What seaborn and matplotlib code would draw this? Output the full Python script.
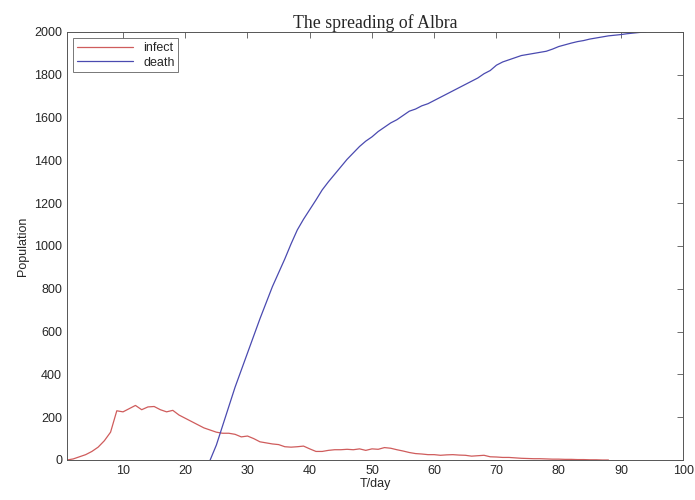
import numpy as np
import pandas as pd
import matplotlib
matplotlib.use('Agg')
import matplotlib.pyplot as plt
import seaborn as sns

# infected population per day (days 1..88)
infect_days = list(range(1, 89))
infect = [0, 5, 15, 25, 40, 60, 90, 130, 230, 225,
          240, 255, 235, 248, 250, 235, 225, 232, 210, 195,
          180, 165, 150, 140, 130, 125, 125, 120, 108, 112,
          100, 85, 80, 75, 72, 62, 60, 62, 65, 52,
          40, 40, 45, 48, 48, 50, 48, 52, 45, 52,
          50, 58, 55, 48, 42, 35, 30, 28, 25, 25,
          22, 24, 25, 23, 22, 18, 20, 22, 15, 14,
          12, 12, 10, 8, 7, 6, 6, 5, 4, 4,
          3, 3, 2, 2, 1, 1, 0, 0]

# cumulative deaths per day (days 24..94)
death_days = list(range(24, 95))
death = [0, 70, 160, 250, 340, 420, 500, 580, 660, 735,
         810, 875, 940, 1010, 1075, 1125, 1170, 1215, 1262, 1300,
         1335, 1370, 1405, 1435, 1465, 1490, 1510, 1535, 1555, 1575,
         1590, 1610, 1630, 1640, 1655, 1665, 1680, 1695, 1710, 1725,
         1740, 1755, 1770, 1785, 1805, 1820, 1845, 1860, 1870, 1880,
         1890, 1895, 1900, 1905, 1910, 1920, 1932, 1940, 1948, 1955,
         1960, 1967, 1972, 1977, 1982, 1985, 1988, 1992, 1995, 1998,
         2000]

df = pd.concat([
    pd.DataFrame({'day': infect_days, 'pop': infect, 'series': 'infect'}),
    pd.DataFrame({'day': death_days, 'pop': death, 'series': 'death'}),
])

sns.set_style('white')
plt.rcParams['font.family'] = ['Liberation Sans', 'DejaVu Sans']

fig = plt.figure(figsize=(6.95, 5.0), dpi=100)
ax = fig.add_axes([0.0964, 0.08, 0.8866, 0.856])

sns.lineplot(data=df, x='day', y='pop', hue='series',
             palette={'infect': '#cf5c5c', 'death': '#4a4ab0'},
             linewidth=0.9, ax=ax)

ax.set_xlim(1, 100)
ax.set_ylim(0, 2000)
ax.set_xticks(range(10, 101, 10))
ax.set_yticks(range(0, 2001, 200))
ax.tick_params(direction='in', top=True, right=True, length=4,
               width=0.6, color='#555555', labelsize=9)
for s in ax.spines.values():
    s.set_color('#555555')
    s.set_linewidth(0.7)

ax.set_xlabel('T/day', fontsize=9, labelpad=1)
ax.set_ylabel('Population', fontsize=9)
ax.set_title('The spreading of Albra', fontsize=12.8,
             family=['Liberation Serif', 'DejaVu Serif'], pad=3)

leg = ax.legend(loc='upper left', fontsize=9, frameon=True, fancybox=False,
                handlelength=4.5, borderaxespad=0.5, borderpad=0.3,
                labelspacing=0.2)
leg.get_frame().set_edgecolor('#555555')
leg.get_frame().set_linewidth(0.7)

fig.savefig('out.png', dpi=100)
